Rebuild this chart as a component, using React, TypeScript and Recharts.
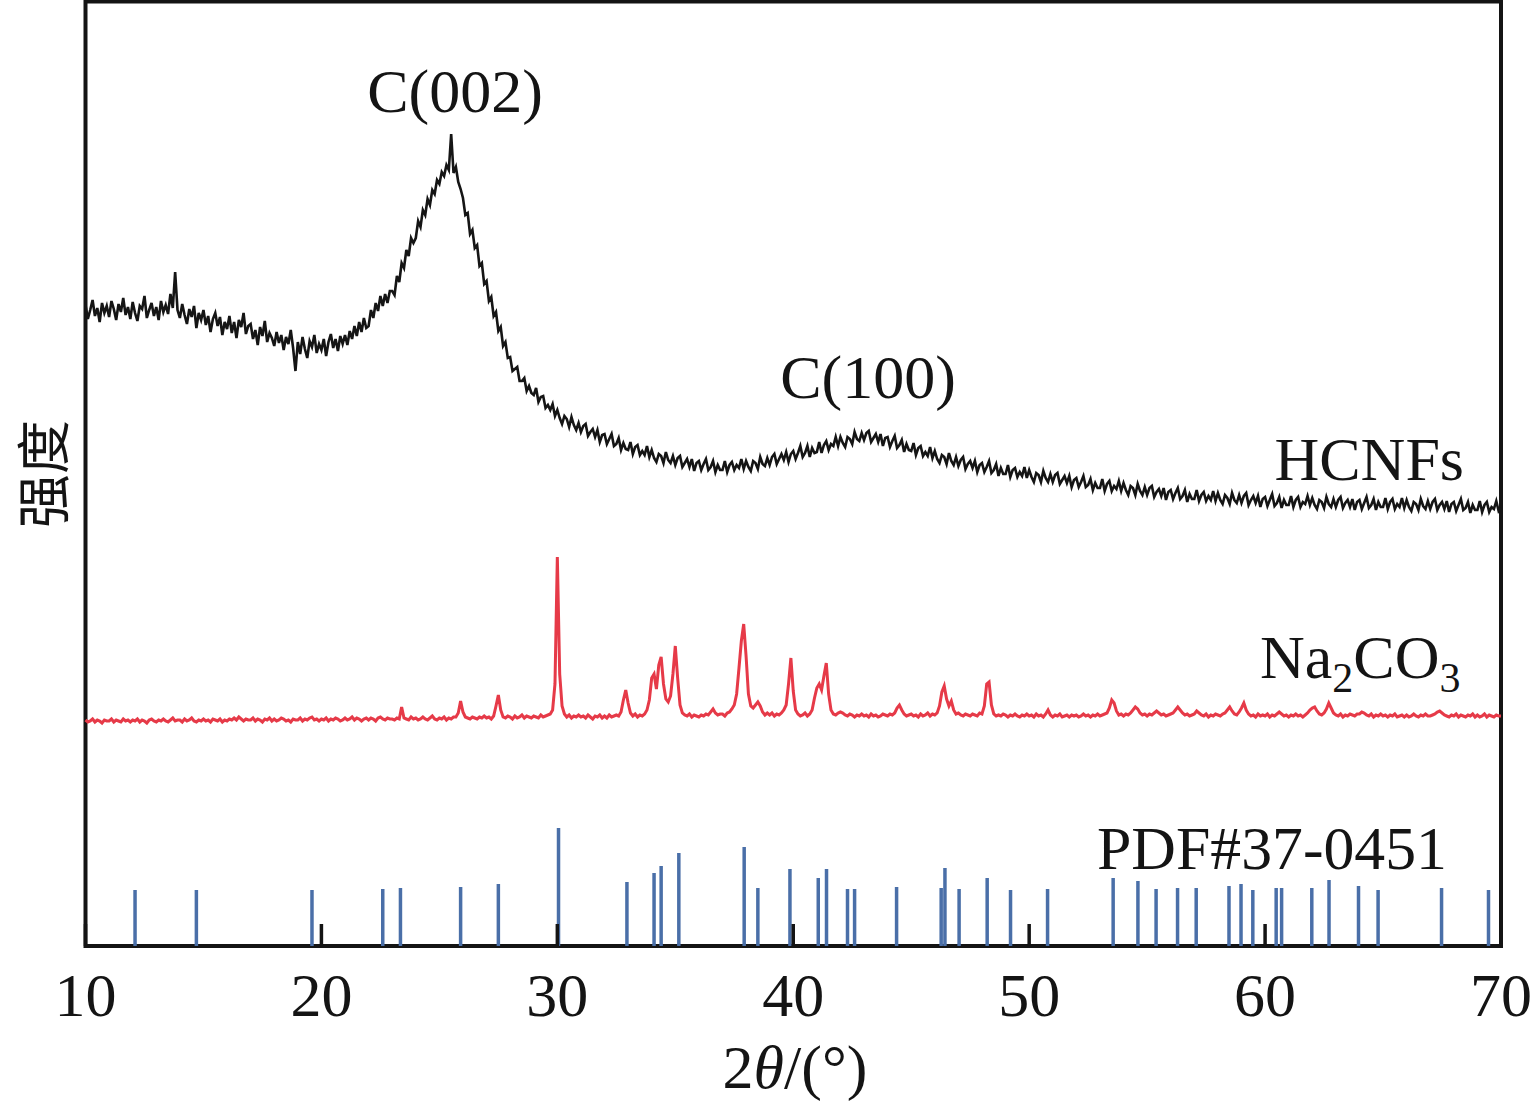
import React from "react";
import {
  LineChart,
  Line,
  XAxis,
  YAxis,
  ReferenceLine,
  ReferenceArea,
} from "recharts";

// ── Data ────────────────────────────────────────────────────────────
// Both patterns share one 2θ grid: 10.0° … 70.0° in 0.1° steps.
// Intensities are arbitrary units (the figure is stacked, no y scale).

const TWO_THETA_START = 10;
const TWO_THETA_STEP = 0.1;

const HCNFS = [
  641, 627, 636, 646, 630, 638, 624, 643, 633, 640, // 10
  629, 645, 637, 626, 642, 634, 648, 631, 639, 627, // 11
  644, 633, 625, 640, 637, 650, 628, 636, 643, 630, // 12
  639, 626, 645, 634, 641, 632, 652, 638, 674, 636, // 13
  628, 642, 631, 622, 637, 629, 640, 618, 633, 626, // 14
  636, 621, 630, 614, 627, 633, 620, 629, 611, 624, // 15
  617, 630, 613, 624, 608, 626, 619, 633, 612, 620, // 16
  622, 607, 616, 601, 619, 610, 625, 604, 613, 608, // 17
  600, 614, 603, 611, 596, 609, 602, 616, 598, 575, // 18
  604, 592, 609, 597, 588, 605, 599, 611, 593, 602, // 19
  596, 607, 590, 604, 612, 598, 607, 595, 610, 602, // 20
  611, 601, 615, 607, 620, 610, 624, 614, 628, 618, // 21
  620, 636, 628, 643, 635, 650, 640, 652, 643, 655, // 22
  655, 651, 670, 664, 683, 678, 696, 690, 708, 703, // 23
  708, 725, 719, 736, 731, 747, 741, 756, 752, 766, // 24
  762, 774, 770, 781, 776, 812, 773, 779, 764, 757, // 25
  748, 731, 733, 712, 716, 698, 701, 680, 683, 662, // 26
  665, 645, 649, 630, 634, 615, 619, 600, 604, 588, // 27
  589, 575, 577, 579, 565, 565, 568, 555, 560, 553, // 28
  551, 558, 544, 549, 550, 538, 541, 536, 542, 530, // 29
  536, 528, 522, 530, 527, 519, 529, 521, 516, 523, // 30
  514, 520, 522, 510, 514, 517, 509, 516, 504, 511, // 31
  512, 502, 507, 512, 500, 502, 508, 496, 503, 497, // 32
  496, 504, 492, 499, 501, 491, 495, 491, 500, 489, // 33
  496, 488, 484, 492, 490, 483, 494, 486, 483, 490, // 34
  481, 488, 490, 479, 483, 487, 479, 487, 475, 483, // 35
  485, 476, 482, 487, 476, 479, 485, 474, 481, 476, // 36
  476, 485, 474, 481, 484, 476, 481, 478, 487, 477, // 37
  485, 479, 475, 485, 483, 477, 489, 482, 480, 488, // 38
  481, 489, 492, 482, 487, 492, 486, 494, 484, 492, // 39
  495, 487, 493, 500, 489, 493, 500, 489, 498, 493, // 40
  494, 504, 493, 501, 505, 496, 502, 500, 509, 500, // 41
  509, 503, 499, 509, 507, 502, 514, 507, 505, 513, // 42
  506, 513, 515, 504, 508, 512, 504, 512, 500, 508, // 43
  509, 499, 505, 510, 498, 501, 506, 494, 502, 496, // 44
  495, 503, 491, 498, 500, 490, 494, 490, 499, 488, // 45
  495, 487, 483, 491, 489, 482, 493, 485, 481, 489, // 46
  480, 486, 489, 477, 482, 485, 478, 485, 474, 481, // 47
  483, 474, 479, 485, 473, 476, 482, 470, 478, 472, // 48
  472, 481, 469, 476, 478, 469, 474, 470, 479, 468, // 49
  476, 469, 464, 473, 471, 464, 475, 468, 464, 472, // 50
  464, 471, 473, 462, 466, 470, 463, 470, 459, 466, // 51
  468, 459, 464, 470, 459, 461, 467, 456, 463, 458, // 52
  458, 467, 455, 462, 465, 455, 460, 457, 465, 455, // 53
  463, 456, 451, 460, 458, 451, 462, 455, 451, 459, // 54
  451, 458, 460, 449, 454, 457, 450, 458, 446, 454, // 55
  456, 447, 453, 458, 447, 450, 456, 444, 452, 447, // 56
  447, 456, 445, 451, 454, 445, 450, 446, 455, 445, // 57
  453, 446, 442, 451, 448, 442, 453, 446, 443, 451, // 58
  443, 450, 453, 441, 446, 450, 443, 450, 439, 447, // 59
  449, 440, 446, 452, 440, 443, 449, 438, 446, 441, // 60
  441, 450, 439, 446, 449, 439, 444, 442, 450, 441, // 61
  448, 441, 437, 446, 444, 438, 449, 442, 439, 447, // 62
  439, 446, 449, 438, 443, 446, 439, 447, 436, 444, // 63
  446, 437, 443, 449, 438, 441, 447, 436, 444, 439, // 64
  439, 448, 437, 444, 447, 437, 442, 439, 448, 438, // 65
  446, 439, 435, 444, 442, 436, 447, 440, 437, 445, // 66
  437, 444, 447, 436, 441, 444, 437, 445, 434, 442, // 67
  444, 435, 441, 447, 436, 438, 444, 433, 441, 436, // 68
  436, 445, 434, 441, 444, 434, 439, 437, 445, 435, // 69
  438, // 70
];

const NA2CO3 = [
  226, 224, 225, 227, 224, 226, 225, 223, 226, 225, // 10
  225, 227, 224, 226, 225, 224, 227, 225, 226, 224, // 11
  226, 225, 227, 224, 226, 225, 223, 226, 227, 225, // 12
  224, 226, 225, 227, 225, 224, 226, 228, 225, 226, // 13
  226, 224, 227, 225, 226, 228, 225, 224, 226, 225, // 14
  227, 225, 226, 224, 227, 226, 225, 227, 224, 226, // 15
  225, 227, 226, 228, 226, 229, 227, 225, 227, 226, // 16
  226, 228, 225, 227, 226, 224, 227, 226, 228, 225, // 17
  227, 225, 226, 228, 227, 225, 226, 224, 227, 226, // 18
  226, 228, 225, 227, 226, 228, 229, 226, 227, 225, // 19
  227, 226, 228, 225, 227, 226, 228, 227, 225, 226, // 20
  228, 226, 227, 229, 226, 228, 227, 225, 227, 228, // 21
  226, 228, 227, 225, 228, 229, 227, 226, 228, 227, // 22
  227, 226, 228, 227, 239, 228, 227, 226, 229, 227, // 23
  228, 226, 227, 229, 227, 226, 228, 230, 227, 226, // 24
  228, 227, 229, 226, 228, 227, 229, 229, 233, 245, // 25
  234, 229, 228, 227, 229, 228, 227, 229, 228, 230, // 26
  228, 229, 227, 230, 240, 251, 236, 229, 228, 230, // 27
  229, 227, 230, 228, 229, 231, 228, 230, 229, 228, // 28
  230, 229, 228, 231, 229, 230, 231, 232, 236, 262, // 29
  389, 272, 240, 232, 229, 231, 228, 230, 229, 231, // 30
  229, 230, 228, 231, 229, 227, 230, 229, 231, 228, // 31
  230, 228, 231, 229, 230, 231, 230, 234, 246, 256, // 32
  243, 233, 230, 232, 229, 231, 230, 232, 236, 246, // 33
  268, 272, 257, 281, 289, 262, 247, 244, 250, 272, // 34
  300, 268, 241, 233, 231, 230, 232, 229, 231, 230, // 35
  229, 231, 230, 232, 231, 234, 237, 233, 231, 232, // 36
  232, 230, 233, 234, 237, 241, 252, 278, 305, 322, // 37
  290, 252, 240, 238, 241, 244, 240, 234, 231, 233, // 38
  231, 233, 230, 232, 231, 233, 236, 241, 262, 288, // 39
  255, 236, 232, 230, 231, 233, 230, 232, 236, 248, // 40
  258, 262, 256, 270, 283, 252, 236, 232, 231, 233, // 41
  234, 233, 231, 230, 232, 231, 229, 231, 230, 232, // 42
  230, 231, 229, 232, 230, 231, 229, 230, 232, 231, // 43
  230, 232, 231, 233, 238, 241, 236, 232, 230, 231, // 44
  232, 230, 231, 229, 232, 230, 231, 233, 230, 232, // 45
  231, 233, 240, 254, 260, 247, 240, 245, 236, 232, // 46
  233, 231, 230, 232, 231, 230, 232, 231, 230, 233, // 47
  232, 240, 262, 264, 241, 232, 230, 231, 230, 232, // 48
  231, 229, 231, 230, 232, 230, 229, 231, 230, 232, // 49
  230, 231, 229, 232, 230, 231, 229, 232, 236, 231, // 50
  229, 231, 230, 232, 229, 230, 231, 229, 231, 230, // 51
  231, 229, 230, 232, 230, 231, 229, 231, 230, 232, // 52
  230, 231, 232, 233, 238, 246, 243, 235, 231, 232, // 53
  230, 232, 231, 233, 236, 239, 237, 233, 231, 232, // 54
  230, 232, 231, 233, 235, 233, 231, 232, 230, 231, // 55
  232, 233, 236, 239, 236, 233, 231, 232, 230, 231, // 56
  232, 235, 233, 231, 230, 232, 229, 231, 230, 232, // 57
  231, 230, 232, 233, 236, 239, 235, 232, 231, 234, // 58
  238, 243, 236, 232, 230, 231, 229, 232, 230, 231, // 59
  230, 232, 229, 231, 230, 232, 234, 232, 230, 231, // 60
  229, 231, 230, 232, 230, 231, 229, 231, 233, 236, // 61
  238, 239, 235, 232, 231, 233, 237, 243, 238, 233, // 62
  231, 230, 232, 229, 231, 230, 232, 231, 230, 232, // 63
  232, 234, 233, 231, 230, 232, 229, 231, 230, 232, // 64
  230, 231, 229, 231, 230, 232, 229, 230, 231, 229, // 65
  231, 229, 230, 232, 230, 229, 231, 230, 232, 230, // 66
  230, 231, 232, 234, 235, 233, 231, 230, 229, 231, // 67
  230, 232, 229, 231, 230, 229, 231, 230, 232, 229, // 68
  231, 229, 230, 232, 229, 231, 230, 229, 231, 230, // 69
  230, // 70
];

// PDF#37-0451 stick pattern
const PDF_POSITIONS = [
  12.1, 14.7, 19.6, 22.6, 23.35, 25.9, 27.5, 30.05, 32.95, 34.1, 34.4, 35.15,
  37.92, 38.5, 39.86, 41.06, 41.41, 42.3, 42.6, 44.38, 46.27, 46.43, 47.03,
  48.22, 49.21, 50.78, 53.56, 54.61, 55.38, 56.29, 57.08, 58.47, 58.98, 59.48,
  60.47, 60.7, 61.98, 62.71, 63.96, 64.79, 67.48, 69.47,
];
const PDF_INTENSITIES = [
  56, 56, 56, 57, 58, 59, 62, 118, 64, 73, 80, 93,
  99, 58, 77, 68, 77, 57, 57, 59, 58, 78, 57,
  68, 56, 57, 68, 65, 57, 58, 58, 60, 62, 56,
  58, 58, 58, 66, 60, 56, 58, 56,
];

const X_TICKS = [10, 20, 30, 40, 50, 60, 70];
const Y_MAX = 944.5;

// ── Chart table ────────────────────────────────────────────────────

const rows = HCNFS.map((h, i) => ({
  t: +(TWO_THETA_START + i * TWO_THETA_STEP).toFixed(1),
  hcnfs: h,
  na2co3: NA2CO3[i],
}));

const SERIF = '"Liberation Serif", "Times New Roman", serif';
const INK = "#141414";

// ── Custom x tick: inward tick mark + label ────────────────────────

function TwoThetaTick({ x, y, payload }: { x?: number; y?: number; payload?: { value: number } }) {
  if (x == null || y == null || !payload) return null;
  return (
    <g>
      <line x1={x} x2={x} y1={y} y2={y - 22} stroke={INK} strokeWidth={3.5} />
      <text
        x={x}
        y={y + 70}
        textAnchor="middle"
        fontFamily={SERIF}
        fontSize={62}
        fill={INK}
      >
        {payload.value}
      </text>
    </g>
  );
}

// ── Component ──────────────────────────────────────────────────────

export default function App() {
  return (
    <div
      style={{
        position: "absolute",
        left: 0,
        top: 0,
        width: 1536,
        height: 1110,
        background: "#fff",
      }}
    >
      <LineChart
        width={1536}
        height={1110}
        data={rows}
        margin={{ top: 1.5, right: 35, bottom: 0, left: 85.5 }}
      >
        <XAxis
          dataKey="t"
          type="number"
          domain={[10, 70]}
          ticks={X_TICKS}
          height={164}
          axisLine={false}
          tickLine={false}
          tickSize={0}
          tickMargin={0}
          tick={<TwoThetaTick />}
          interval={0}
        />
        <YAxis hide width={0} type="number" domain={[0, Y_MAX]} allowDataOverflow />

        {PDF_POSITIONS.map((pos, i) => (
          <ReferenceLine
            key={pos}
            segment={[
              { x: pos, y: 0 },
              { x: pos, y: PDF_INTENSITIES[i] },
            ]}
            stroke="#4a6fa8"
            strokeWidth={3.5}
          />
        ))}

        <Line
          dataKey="na2co3"
          type="linear"
          stroke="#e63a48"
          strokeWidth={3}
          dot={false}
          activeDot={false}
          isAnimationActive={false}
        />
        <Line
          dataKey="hcnfs"
          type="linear"
          stroke="#151515"
          strokeWidth={2.6}
          dot={false}
          activeDot={false}
          isAnimationActive={false}
        />

        <ReferenceArea
          x1={10}
          x2={70}
          y1={0}
          y2={Y_MAX}
          fill="none"
          fillOpacity={0}
          stroke={INK}
          strokeWidth={4}
          ifOverflow="visible"
        />
      </LineChart>

      {/* annotations and axis titles */}
      <svg
        width={1536}
        height={1110}
        style={{ position: "absolute", left: 0, top: 0, pointerEvents: "none" }}
      >
        <g fontFamily={SERIF} fill={INK} fontSize={62}>
          <text x={455} y={112} textAnchor="middle">C(002)</text>
          <text x={868} y={398} textAnchor="middle">C(100)</text>
          <text x={1464} y={480} textAnchor="end">HCNFs</text>
          <text x={1260} y={678}>
            Na
            <tspan fontSize={42} dy={14}>2</tspan>
            <tspan dy={-14}>CO</tspan>
            <tspan fontSize={42} dy={14}>3</tspan>
          </text>
          <text x={1097} y={869} textLength={350} lengthAdjust="spacingAndGlyphs">
            PDF#37-0451
          </text>
          <text x={795} y={1088} textAnchor="middle">
            2<tspan fontStyle="italic">θ</tspan>/(°)
          </text>
        </g>
        <text
          x={64}
          y={474}
          transform="rotate(-90 64 474)"
          textAnchor="middle"
          fontFamily='"Noto Sans CJK SC", sans-serif'
          fontSize={54}
          fill={INK}
        >
          强度
        </text>
      </svg>
    </div>
  );
}
